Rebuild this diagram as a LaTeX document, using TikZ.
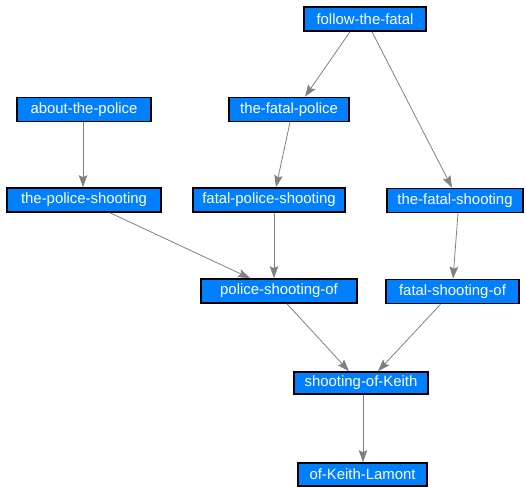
\documentclass[tikz,border=0pt]{standalone}
\usepackage{fontspec}
\setmainfont{Liberation Sans}
\usetikzlibrary{arrows.meta,calc}
\definecolor{boxblue}{RGB}{0,128,255}
\definecolor{edgegray}{RGB}{128,128,128}
\tikzset{
  wbox/.style={draw=black, line width=1.6pt, fill=boxblue, text=white,
    font=\fontsize{14.9pt}{16pt}\selectfont, inner sep=0pt, minimum height=24pt},
  conn/.style={draw=edgegray, line width=0.8pt, -{Stealth[length=12pt,width=8.5pt,inset=2pt]}}
}
\begin{document}
\begin{tikzpicture}[x=1pt,y=-1pt]
\useasboundingbox (0,0) rectangle (526,486);
\node[wbox, minimum width=122pt] (ff) at (365,19) {follow-the-fatal};
\node[wbox, minimum width=134pt] (atp) at (84,109.5) {about-the-police};
\node[wbox, minimum width=120pt] (tfp) at (289,109.5) {the-fatal-police};
\node[wbox, minimum width=154pt] (tps) at (84,200) {the-police-shooting};
\node[wbox, minimum width=152pt] (fps) at (269,200) {fatal-police-shooting};
\node[wbox, minimum width=136pt] (tfs) at (455,200.5) {the-fatal-shooting};
\node[wbox, minimum width=156pt] (pso) at (279,291) {police-shooting-of};
\node[wbox, minimum width=133pt] (fso) at (452.5,291.5) {fatal-shooting-of};
\node[wbox, minimum width=134pt, minimum height=22pt] (sok) at (361,383) {shooting-of-Keith};
\node[wbox, minimum width=129pt, minimum height=23pt] (okl) at (362.5,474.5) {of-Keith-Lamont};

\draw[conn] ($(ff.south)+(-15,0)$) -- ($(tfp.north)+(16,0)$);
\draw[conn] ($(ff.south)+(7,0)$) -- ($(tfs.north)+(-3,0)$);
\draw[conn] ($(atp.south)+(-1,0)$) -- ($(tps.north)+(-1,0)$);
\draw[conn] ($(tfp.south)+(1,0)$) -- ($(fps.north)+(7,0)$);
\draw[conn] ($(tps.south)+(26,0)$) -- ($(pso.north)+(-29,0)$);
\draw[conn] ($(fps.south)+(5,0)$) -- ($(pso.north)+(-5,0)$);
\draw[conn] ($(tfs.south)+(3,0)$) -- ($(fso.north)+(0.5,0)$);
\draw[conn] ($(pso.south)+(8,0)$) -- ($(sok.north)+(-12,0)$);
\draw[conn] ($(fso.south)+(-12,0)$) -- ($(sok.north)+(17,0)$);
\draw[conn] ($(sok.south)+(2,0)$) -- ($(okl.north)+(0.5,0)$);
\end{tikzpicture}
\end{document}
